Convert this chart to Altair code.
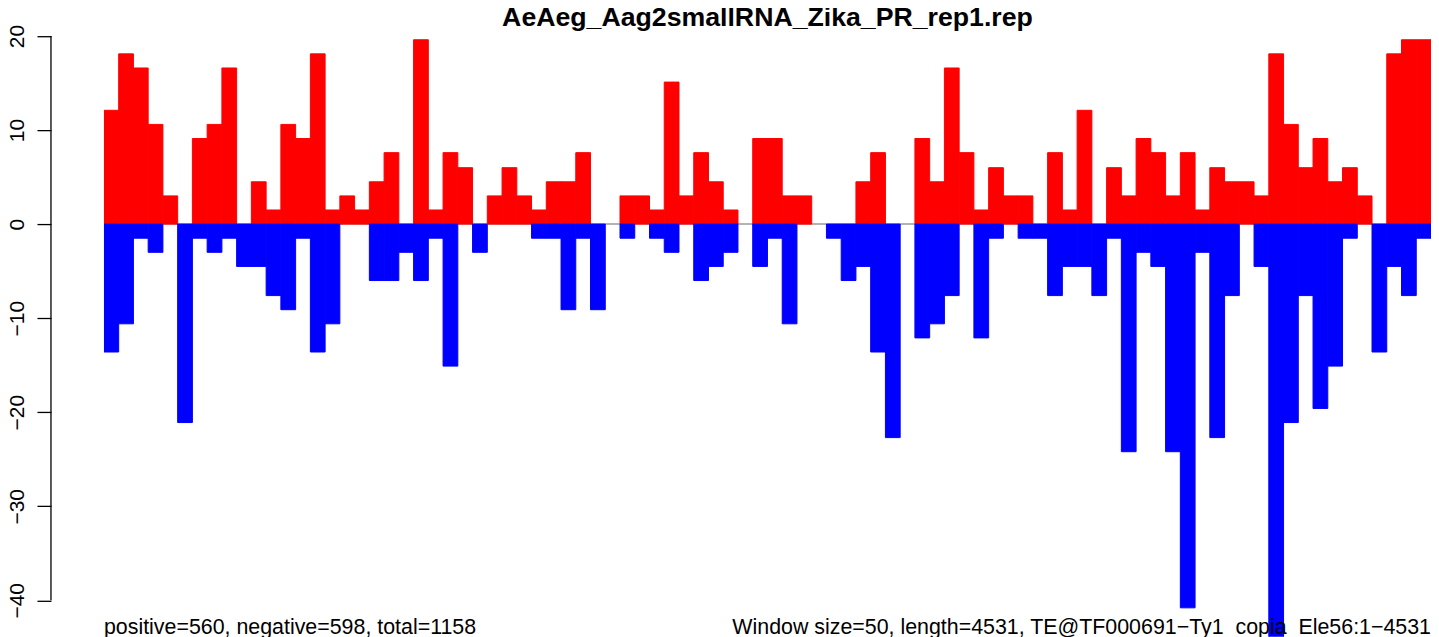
import altair as alt
import pandas as pd

# ---- data ----
window_size = 50
seq_length = 4531
title_text = "AeAeg_Aag2smallRNA_Zika_PR_rep1.rep"
left_note = "positive=560, negative=598, total=1158"
right_note = "Window size=50, length=4531, TE@TF000691\u2212Ty1_copia_Ele56:1\u22124531"

positive = [
    12.1, 18.1, 16.6, 10.6, 3.0, 0, 9.1, 10.6, 16.6, 0, 4.5, 1.5, 10.6, 9.1, 18.1,
    1.5, 3.0, 1.5, 4.5, 7.6, 0, 19.6, 1.5, 7.6, 6.0, 0, 3.0, 6.0, 3.0, 1.5,
    4.5, 4.5, 7.6, 0, 0, 3.0, 3.0, 1.5, 15.1, 3.0, 7.6, 4.5, 1.5, 0, 9.1,
    9.1, 3.0, 3.0, 0, 0, 0, 4.5, 7.6, 0, 0, 9.1, 4.5, 16.6, 7.6, 1.5,
    6.0, 3.0, 3.0, 0, 7.6, 1.5, 12.1, 0, 6.0, 3.0, 9.1, 7.6, 3.0, 7.6, 1.5,
    6.0, 4.5, 4.5, 3.0, 18.1, 10.6, 6.0, 9.1, 4.5, 6.0, 3.0, 0, 18.1, 19.6, 19.6,
]
negative = [
    -13.6, -10.6, -1.5, -3.0, 0, -21.1, -1.5, -3.0, -1.5, -4.5, -4.5, -7.6, -9.1, -1.5, -13.6,
    -10.6, 0, 0, -6.0, -6.0, -3.0, -6.0, -1.5, -15.1, 0, -3.0, 0, 0, 0, -1.5,
    -1.5, -9.1, -1.5, -9.1, 0, -1.5, 0, -1.5, -3.0, 0, -6.0, -4.5, -3.0, 0, -4.5,
    -1.5, -10.6, 0, 0, -1.5, -6.0, -4.5, -13.6, -22.7, 0, -12.1, -10.6, -7.6, 0, -12.1,
    -1.5, 0, -1.5, -1.5, -7.6, -4.5, -4.5, -7.6, -1.5, -24.2, -3.0, -4.5, -24.2, -40.8, -3.0,
    -22.7, -7.6, 0, -4.5, -45.3, -21.1, -7.6, -19.6, -15.1, -1.5, 0, -13.6, -4.5, -7.6, -1.5,
]
y_ticks = [-40, -30, -20, -10, 0, 10, 20]

n = len(positive)
starts = [i * window_size for i in range(n)]
rows = []
for i in range(n):
    if positive[i] != 0:
        rows.append({"start": starts[i], "end": starts[i] + window_size, "value": positive[i], "strand": "pos"})
    if negative[i] != 0:
        rows.append({"start": starts[i], "end": starts[i] + window_size, "value": negative[i], "strand": "neg"})
df = pd.DataFrame(rows)
x_end = n * window_size

FONT = "Liberation Sans"
W, H = 1328, 629
x_scale = alt.Scale(domain=[0, x_end], nice=False, zero=False)
y_scale = alt.Scale(domain=[-43.878, 22.954], nice=False, zero=False)
strand_scale = alt.Scale(domain=["pos", "neg"], range=["#ff0000", "#0000ff"])

base = alt.Chart(df)

zero_line = alt.Chart(pd.DataFrame({"a": [0], "b": [x_end], "y": [0]})).mark_rule(
    color="#9a9a9a", strokeWidth=1.5
).encode(
    x=alt.X("a:Q", scale=x_scale, axis=None),
    x2="b:Q",
    y=alt.Y("y:Q", scale=y_scale),
)

bars = base.mark_rect(clip=True, strokeWidth=1.0).encode(
    x=alt.X("start:Q", scale=x_scale, axis=None),
    x2="end:Q",
    y=alt.Y(
        "value:Q",
        scale=y_scale,
        axis=alt.Axis(
            values=y_ticks,
            domain=False,
            grid=False,
            title=None,
            offset=53,
            tickSize=14,
            tickWidth=1.3,
            tickColor="black",
            labelAngle=270,
            labelAlign="center",
            labelBaseline="middle",
            labelPadding=19,
            labelFontSize=21,
            labelFont=FONT,
            labelColor="black",
            labelOverlap=False,
        ),
    ),
    y2=alt.datum(0),
    color=alt.Color("strand:N", scale=strand_scale, legend=None),
    stroke=alt.Stroke("strand:N", scale=strand_scale, legend=None),
)

axis_line = alt.Chart(pd.DataFrame({"lo": [y_ticks[0]], "hi": [y_ticks[-1]]})).mark_rule(
    color="black", strokeWidth=1.3
).encode(
    x=alt.value(-53),
    y=alt.Y("lo:Q", scale=y_scale),
    y2="hi:Q",
)

title_mark = alt.Chart(pd.DataFrame({"t": [title_text], "x": [x_end / 2]})).mark_text(
    font=FONT, fontSize=26.7, fontWeight="bold", color="black", align="center", baseline="alphabetic"
).encode(
    x=alt.X("x:Q", scale=x_scale),
    y=alt.value(18),
    text="t:N",
)

left_mark = alt.Chart(pd.DataFrame({"t": [left_note], "x": [0]})).mark_text(
    font=FONT, fontSize=21.4, color="black", align="left", baseline="alphabetic"
).encode(
    x=alt.X("x:Q", scale=x_scale),
    y=alt.value(626),
    text="t:N",
)

right_mark = alt.Chart(pd.DataFrame({"t": [right_note], "x": [x_end]})).mark_text(
    font=FONT, fontSize=21.4, color="black", align="right", baseline="alphabetic"
).encode(
    x=alt.X("x:Q", scale=x_scale),
    y=alt.value(626),
    text="t:N",
)

chart = alt.layer(zero_line, bars, axis_line, title_mark, left_mark, right_mark).properties(
    width=W,
    height=H,
    autosize=alt.AutoSizeParams(type="none"),
    padding={"left": 96, "top": 0, "right": 0, "bottom": 0},
    background="white",
).configure_view(stroke=None)

chart.save("out.html", embed_options={"renderer": "svg", "actions": False})
